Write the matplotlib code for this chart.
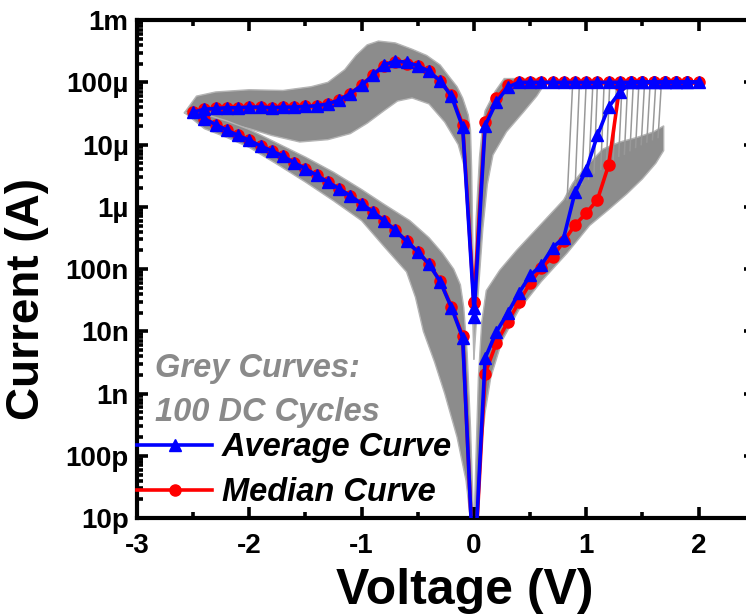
"""
Resistive switching I-V: 100 DC cycles (grey), average and median curves.
"""
import matplotlib
matplotlib.use('Agg')
import matplotlib.pyplot as plt
from matplotlib.ticker import FixedLocator, MultipleLocator, LogLocator, NullFormatter

plt.rcParams['font.family'] = ['Liberation Sans', 'DejaVu Sans']
plt.rcParams['font.weight'] = 'bold'
plt.rcParams['axes.unicode_minus'] = False

# ---- sweep voltages (V) ----
V_NEG = [-0.1, -0.2, -0.3, -0.4, -0.5, -0.6, -0.7, -0.8, -0.9, -1.0, -1.1, -1.2, -1.3,
         -1.4, -1.5, -1.6, -1.7, -1.8, -1.9, -2.0, -2.1, -2.2, -2.3, -2.4, -2.5]
V_POS = [0.1, 0.2, 0.3, 0.4, 0.5, 0.6, 0.7, 0.8, 0.9, 1.0, 1.1, 1.2, 1.3, 1.4,
         1.5, 1.6, 1.7, 1.8, 1.9, 2.0]

# ---- average curve (A), per branch, ordered like V_NEG / V_POS ----
avg_start, avg_zero, avg_end = 2.4e-8, 1e-12, 1.7e-8
avg_neg_lrs = [1.9e-5, 6.0e-5, 1.05e-4, 1.5e-4, 1.85e-4, 2.1e-4, 2.2e-4, 1.9e-4, 1.3e-4,
               8.9e-5, 6.6e-5, 5.2e-5, 4.5e-5, 4.2e-5, 4.1e-5, 4.0e-5, 4.0e-5, 3.9e-5,
               4.0e-5, 4.0e-5, 3.9e-5, 3.9e-5, 3.8e-5, 3.7e-5, 3.3e-5]
avg_neg_hrs = [7.9e-9, 2.4e-8, 6.3e-8, 1.2e-7, 1.9e-7, 2.8e-7, 4.2e-7, 6.0e-7, 8.3e-7,
               1.12e-6, 1.5e-6, 1.95e-6, 2.5e-6, 3.2e-6, 4.1e-6, 5.1e-6, 6.5e-6, 7.9e-6,
               9.5e-6, 1.17e-5, 1.4e-5, 1.7e-5, 2.1e-5, 2.6e-5, 3.3e-5]
avg_pos_hrs = [3.7e-9, 9.8e-9, 1.95e-8, 4.1e-8, 7.9e-8, 1.15e-7, 2.2e-7, 3.2e-7, 1.7e-6,
               3.9e-6, 1.4e-5, 4.0e-5, 7.0e-5, 1e-4, 1e-4, 1e-4, 1e-4, 1e-4, 1e-4, 1e-4]
avg_pos_lrs = [2.0e-5, 4.8e-5, 8.3e-5, 1e-4, 1e-4, 1e-4, 1e-4, 1e-4, 1e-4, 1e-4,
               1e-4, 1e-4, 1e-4, 1e-4, 1e-4, 1e-4, 1e-4, 1e-4, 1e-4, 1e-4]

# ---- median curve (A) ----
med_start, med_zero, med_end = 3.0e-8, 1e-12, 2.8e-8
med_neg_lrs = [2.1e-5, 6.3e-5, 1.05e-4, 1.5e-4, 1.8e-4, 2.0e-4, 2.1e-4, 1.85e-4, 1.3e-4,
               9.0e-5, 6.6e-5, 5.2e-5, 4.5e-5, 4.2e-5, 4.1e-5, 4.0e-5, 4.0e-5, 3.9e-5,
               4.0e-5, 4.0e-5, 3.9e-5, 3.9e-5, 3.8e-5, 3.7e-5, 3.3e-5]
med_neg_hrs = [8.5e-9, 2.5e-8, 6.5e-8, 1.2e-7, 1.9e-7, 2.8e-7, 4.2e-7, 6.0e-7, 8.3e-7,
               1.1e-6, 1.5e-6, 1.95e-6, 2.5e-6, 3.2e-6, 4.1e-6, 5.1e-6, 6.5e-6, 7.9e-6,
               9.5e-6, 1.17e-5, 1.4e-5, 1.7e-5, 2.1e-5, 2.6e-5, 3.3e-5]
med_pos_hrs = [2.1e-9, 6.5e-9, 1.4e-8, 2.95e-8, 5.9e-8, 1.05e-7, 1.55e-7, 2.8e-7, 5.1e-7,
               7.9e-7, 1.3e-6, 4.7e-6, 9.0e-5, 1e-4, 1e-4, 1e-4, 1e-4, 1e-4, 1e-4, 1e-4]
med_pos_lrs = [2.3e-5, 5.5e-5, 9.0e-5, 1e-4, 1e-4, 1e-4, 1e-4, 1e-4, 1e-4, 1e-4,
               1e-4, 1e-4, 1e-4, 1e-4, 1e-4, 1e-4, 1e-4, 1e-4, 1e-4, 1e-4]

# ---- grey cloud of the 100 cycles, traced as outlines (V, A) ----
grey_neg_lobe_v = [-2.58, -2.47, -2.3, -2.0, -1.7, -1.45, -1.3, -1.15, -1.05, -0.95, -0.85,
                   -0.7, -0.55, -0.42, -0.3, -0.23, -0.15, -0.1, -0.05, -0.03, -0.02, -0.01,
                   0.0, 0.0, -0.03, -0.07, -0.14, -0.26, -0.4, -0.55, -0.68, -0.8, -0.95,
                   -1.1, -1.3, -1.55, -1.8, -2.0, -2.2, -2.4]
grey_neg_lobe_i = [3.2e-5, 6.0e-5, 7.0e-5, 7.6e-5, 7.4e-5, 8.5e-5, 1.0e-4, 1.6e-4, 2.7e-4,
                   4.0e-4, 4.6e-4, 4.3e-4, 3.4e-4, 2.7e-4, 1.9e-4, 1.3e-4, 8.5e-5, 5.6e-5,
                   3.0e-5, 1.7e-5, 4e-6, 3.2e-7, 3.2e-8, 3.5e-9, 3.2e-7, 3.5e-6, 1.0e-5,
                   2.3e-5, 4.5e-5, 5.6e-5, 5.0e-5, 3.5e-5, 2.2e-5, 1.5e-5, 1.2e-5, 1.1e-5,
                   1.4e-5, 1.8e-5, 2.2e-5, 2.6e-5]

grey_neg_hrs_v = [-2.58, -2.4, -2.2, -2.0, -1.75, -1.5, -1.25, -1.0, -0.8, -0.57, -0.4,
                  -0.28, -0.18, -0.12, -0.09, -0.06, -0.03, 0.0, -0.02, -0.07, -0.15,
                  -0.26, -0.35, -0.45, -0.52, -0.6, -0.8, -1.0, -1.25, -1.5, -1.75, -2.0,
                  -2.2, -2.4]
grey_neg_hrs_i = [3.3e-5, 3.1e-5, 2.4e-5, 1.75e-5, 1.05e-5, 6.3e-6, 3.6e-6, 1.9e-6, 1.1e-6,
                  6.0e-7, 3.2e-7, 1.8e-7, 1.0e-7, 5.6e-8, 2.4e-8, 4.5e-9, 2.8e-10, 6.3e-12,
                  6.3e-12, 4.0e-11, 2.0e-10, 1.0e-9, 3.2e-9, 1.0e-8, 3.5e-8, 9e-8, 2.3e-7,
                  6.0e-7, 1.25e-6, 2.5e-6, 4.8e-6, 9e-6, 1.3e-5, 1.8e-5]

grey_pos_hrs_v = [0.0, 0.03, 0.06, 0.1, 0.15, 0.25, 0.4, 0.6, 0.83, 1.03, 1.2, 1.36, 1.5,
                  1.62, 1.69, 1.69, 1.6, 1.45, 1.3, 1.15, 1.0, 0.88, 0.8, 0.68, 0.53, 0.38,
                  0.23, 0.11, 0.07, 0.04, 0.02]
grey_pos_hrs_i = [6.3e-12, 2.2e-11, 1.1e-10, 5.0e-10, 1.8e-9, 7.0e-9, 2.2e-8, 6.3e-8, 1.8e-7,
                  5.0e-7, 9e-7, 1.6e-6, 2.8e-6, 5.0e-6, 8.0e-6, 2.0e-5, 1.6e-5, 1.3e-5,
                  1.1e-5, 8.5e-6, 4.5e-6, 2.4e-6, 1.3e-6, 7.6e-7, 3.9e-7, 2.0e-7, 9.6e-8,
                  4.5e-8, 1.4e-8, 1.8e-9, 1.1e-10]

grey_pos_lrs_v = [0.0, 0.0, 0.02, 0.05, 0.08, 0.1, 0.19, 0.27, 0.62, 0.64, 0.56, 0.44,
                  0.29, 0.17, 0.12, 0.08, 0.04]
grey_pos_lrs_i = [3.5e-9, 3.2e-8, 6.3e-7, 6.3e-6, 2.2e-5, 3.5e-5, 7.2e-5, 1.15e-4, 1.15e-4,
                  1e-4, 6.0e-5, 3.3e-5, 1.6e-5, 6.8e-6, 2.3e-6, 4.5e-7, 4.5e-8]

# SET jumps of individual cycles: start on the HRS cloud, end at compliance
set_v_low = [0.83, 0.9, 0.96, 1.02, 1.07, 1.13, 1.18, 1.24, 1.29, 1.34, 1.39, 1.44, 1.49,
             1.54, 1.59, 1.64]
set_i_low = [1.3e-6, 1.8e-6, 2.3e-6, 2.8e-6, 3.5e-6, 4e-6, 5e-6, 5.5e-6, 6.5e-6, 7e-6,
             8e-6, 9e-6, 1e-5, 1.1e-5, 1.2e-5, 1.3e-5]
set_v_high = [0.88, 0.94, 1.0, 1.06, 1.1, 1.16, 1.21, 1.27, 1.32, 1.37, 1.42, 1.47, 1.52,
              1.57, 1.62, 1.67]
compliance = 1e-4
compliance_v = [0.3, 1.7]

ytick_vals = [1e-11, 1e-10, 1e-9, 1e-8, 1e-7, 1e-6, 1e-5, 1e-4, 1e-3]
ytick_labels = ['10p', '100p', '1n', '10n', '100n', '1µ', '10µ', '100µ', '1m']
xtick_vals = [-3, -2, -1, 0, 1, 2]


def sweep(start, neg_lrs, neg_hrs, zero, pos_hrs, pos_lrs, end):
    v = [0.0] + V_NEG + V_NEG[::-1][1:] + [0.0] + V_POS + V_POS[::-1][1:] + [0.0]
    i = [start] + neg_lrs + neg_hrs[::-1][1:] + [zero] + pos_hrs + pos_lrs[::-1][1:] + [end]
    return v, i


fig = plt.figure(figsize=(7.46, 6.16), dpi=100)
ax = fig.add_axes([0.1836, 0.159, 0.828, 0.8084])

grey = '#8c8c8c'
edge = '#b4b4b4'
for pv, pi in [(grey_neg_lobe_v, grey_neg_lobe_i), (grey_neg_hrs_v, grey_neg_hrs_i),
               (grey_pos_hrs_v, grey_pos_hrs_i), (grey_pos_lrs_v, grey_pos_lrs_i)]:
    ax.fill(pv, pi, facecolor=grey, edgecolor=edge, lw=1.0, zorder=1)
for vl, il, vh in zip(set_v_low, set_i_low, set_v_high):
    ax.plot([vl, vh], [il, compliance], color='#999999', lw=1.1, zorder=1)
ax.plot(compliance_v, [compliance, compliance], color=grey, lw=2, zorder=1)

mv, mi = sweep(med_start, med_neg_lrs, med_neg_hrs, med_zero, med_pos_hrs, med_pos_lrs, med_end)
av, ai = sweep(avg_start, avg_neg_lrs, avg_neg_hrs, avg_zero, avg_pos_hrs, avg_pos_lrs, avg_end)
red, = ax.plot(mv, mi, color='#ff0000', lw=2.6, marker='o', ms=8, zorder=2)
blue, = ax.plot(av, ai, color='#0000ff', lw=2.6, marker='^', ms=9, zorder=3)

ax.set_yscale('log')
ax.set_xlim(-3, 2.5)
ax.set_ylim(1e-11, 1e-3)
ax.yaxis.set_major_locator(FixedLocator(ytick_vals))
ax.set_yticklabels(ytick_labels)
ax.yaxis.set_minor_locator(LogLocator(base=10, subs=range(2, 10), numticks=20))
ax.yaxis.set_minor_formatter(NullFormatter())
ax.set_xticks(xtick_vals)
ax.xaxis.set_minor_locator(MultipleLocator(0.5))

ax.tick_params(which='both', direction='in', top=True, right=True, width=2.6)
ax.tick_params(which='major', length=8, labelsize=20)
ax.tick_params(which='minor', length=4.5)
ax.tick_params(axis='x', pad=11)
ax.tick_params(axis='y', pad=6)
for lab in ax.get_xticklabels() + ax.get_yticklabels():
    lab.set_fontweight('bold')
for sp in ax.spines.values():
    sp.set_linewidth(3)

# the source figure is cropped on the right, so the labels sit off the axes centre
ax.set_xlabel('Voltage (V)', fontsize=36, fontweight='bold')
ax.xaxis.set_label_coords(0.53, -0.1)
ax.set_ylabel('Current (A)', fontsize=33, fontweight='bold')
ax.yaxis.set_label_coords(-0.142, 0.44)

ax.text(0.029, 0.256, 'Grey Curves:\n100 DC Cycles', transform=ax.transAxes,
        fontsize=23.5, fontweight='bold', fontstyle='italic', color='#8a8a8a',
        va='center', ha='left', linespacing=1.52)
ax.legend([blue, red], ['Average Curve', 'Median Curve'], loc='lower left',
          bbox_to_anchor=(0.0, 0.02), frameon=False, numpoints=1,
          prop={'size': 23.5, 'weight': 'bold', 'style': 'italic'},
          handlelength=2.3, handletextpad=0.3, labelspacing=0.42,
          borderpad=0, borderaxespad=0)

fig.savefig('out.png', dpi=100)
